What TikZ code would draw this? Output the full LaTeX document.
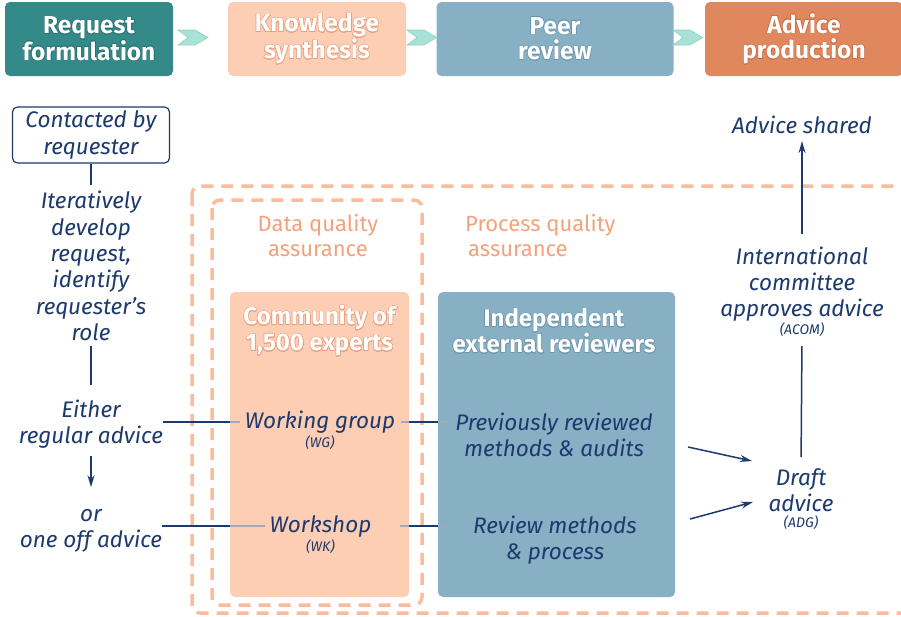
\documentclass[tikz,border=0pt]{standalone}
\usepackage{fontspec}
\setmainfont{Fira Sans}
\usepackage[copies]{contour}
\contourlength{0.5pt}
\usetikzlibrary{arrows.meta}
\definecolor{navy}{HTML}{1C3A6E}
\definecolor{cteal}{HTML}{338A88}
\definecolor{cpeach}{HTML}{FDCDB4}
\definecolor{cblue}{HTML}{87B0C4}
\definecolor{corange}{HTML}{E0875D}
\definecolor{chev}{HTML}{A8E2D6}
\definecolor{chevline}{HTML}{8ED3C5}
\definecolor{dashc}{HTML}{F9BC9D}
\definecolor{ptext}{HTML}{F2A27D}
\definecolor{olteal}{HTML}{2A716F}
\definecolor{olpeach}{HTML}{E9A07F}
\definecolor{olblue}{HTML}{6C97AD}
\definecolor{olorange}{HTML}{C96F46}
\definecolor{lineinbox}{HTML}{A3A9B8}
\begin{document}
\begin{tikzpicture}[x=1pt,y=-1pt,
  hdr/.style={rounded corners=5pt, minimum height=74pt, text=white, align=center, inner sep=0pt,
    font=\bfseries\fontsize{24.5}{25.5}\selectfont},
  body/.style={text=navy, align=center, inner sep=0pt, font=\itshape\fontsize{22.5}{26.3}\selectfont},
  small/.style={text=navy, align=center, inner sep=0pt, font=\itshape\fontsize{14}{15}\selectfont},
  ptxt/.style={text=ptext, inner sep=0pt, font=\fontsize{22}{25}\selectfont},
  btitle/.style={text=white, align=center, inner sep=0pt, font=\bfseries\fontsize{24}{26}\selectfont},
  bigbox/.style={rounded corners=5pt, inner sep=0pt},
  dashbox/.style={draw=dashc, line width=3.5pt, dash pattern=on 12pt off 8pt, rounded corners=8pt},
  conn/.style={draw=navy, line width=1.5pt},
  connin/.style={draw=lineinbox, line width=1.5pt},
  arr/.style={conn, -{Stealth[length=12pt,width=7pt]}},
  chevs/.style={fill=chev, draw=chevline, line width=0.6pt}
]
\useasboundingbox (0,0) rectangle (901,616);

% header
\node[hdr, fill=cteal, minimum width=168pt] (h1) at (89,39)
  {\contour{olteal}{Request}\\\contour{olteal}{formulation}};
\node[hdr, fill=cpeach, minimum width=178pt] (h2) at (317,39)
  {\contour{olpeach}{Knowledge}\\\contour{olpeach}{synthesis}};
\node[hdr, fill=cblue, minimum width=237pt] (h3) at (555,39)
  {\contour{olblue}{Peer}\\\contour{olblue}{review}};
\node[hdr, fill=corange, minimum width=198pt] (h4) at (804,39)
  {\contour{olorange}{Advice}\\\contour{olorange}{production}};
\foreach \dx in {0,229,495}{
  \path[chevs] (178+\dx,30) -- (195+\dx,30) -- (208+\dx,37.5) -- (195+\dx,45) -- (178+\dx,45) -- (188+\dx,37.5) -- cycle;
}

% dashed regions
\draw[dashbox] (192,186) rectangle (915,613);
\draw[dashbox] (212,200) rectangle (422,605);
\node[ptxt, align=center] (dqa) at (318,236) {Data quality\\assurance};
\node[ptxt, align=left, anchor=west] (pqa) at (465,236) {Process quality\\\hspace*{3pt}assurance};

% big boxes
\node[bigbox, fill=cpeach, minimum width=179pt, minimum height=305pt] (comm) at (319.5,444.5) {};
\node[bigbox, fill=cblue, minimum width=237pt, minimum height=305pt] (indep) at (556.5,444.5) {};
\node[btitle] (commt) at (319.5,331) {\contour{olpeach}{Community of}\\\contour{olpeach}{1,500 experts}};
\node[btitle] (indept) at (554,331) {\contour{olblue}{Independent}\\\contour{olblue}{external reviewers}};

% left column
\node[draw=navy, line width=1.2pt, rounded corners=5pt, minimum width=157pt, minimum height=56pt,
  body, fill=white] (contact) at (91,135) {Contacted by\\requester};
\node[body] (iter) at (91,266) {Iteratively\\develop\\request,\\identify\\requester’s\\role};
\node[body] (either) at (91,424) {Either\\regular advice};
\node[body] (oneoff) at (91,531) {or\\one off advice};

% inner texts
\node[body] (wg) at (320,422) {Working group};
\node[small] (wgl) at (320,443) {(WG)};
\node[body] (wk) at (320.5,526) {Workshop};
\node[small] (wkl) at (320.5,547) {(WK)};
\node[body] (prev) at (554,435) {Previously reviewed\\methods \& audits};
\node[body] (rev) at (555,540) {Review methods\\\& process};

% right column
\node[body] (shared) at (802,125) {Advice shared};
\node[body] (intl) at (802,284) {International\\committee\\approves advice};
\node[small] (acom) at (802,330) {(ACOM)};
\node[body] (draft) at (801,490) {Draft\\advice};
\node[small] (adg) at (801,523) {(ADG)};

% connectors
\draw[conn] (contact.south) -- ([yshift=6pt]iter.north);
\draw[conn, shorten <=5pt, shorten >=14pt] (iter.south) -- (either.north);
\draw[arr, shorten <=7pt, shorten >=22pt] (either.south) -- (oneoff.north);

\draw[conn] (wg.west -| either.east) -- (wg.west -| comm.west);
\draw[connin] (wg.west -| comm.west) -- ([xshift=-5pt]wg.west);
\draw[conn] (wk.west -| oneoff.east) -- (wk.west -| comm.west);
\draw[connin] (wk.west -| comm.west) -- ([xshift=-5pt]wk.west);

\draw[connin] ([xshift=6pt]wg.east) -- (wg.east -| comm.east);
\draw[conn] (wg.east -| comm.east) -- (wg.east -| indep.west);
\draw[connin] (wg.east -| indep.west) -- ([xshift=-8pt]wg.east -| prev.west);
\draw[connin] ([xshift=29pt]wk.east) -- (wk.east -| comm.east);
\draw[conn] (wk.east -| comm.east) -- (wk.east -| indep.west);
\draw[connin] (wk.east -| indep.west) -- ([xshift=-28pt]wk.east -| rev.west);

\coordinate (a1s) at (688,447);
\coordinate (a1e) at (752,461);
\coordinate (a2s) at (690,519);
\coordinate (a2e) at (753,502);
\draw[arr] (a1s) -- (a1e);
\draw[arr] (a2s) -- (a2e);

\draw[conn, shorten <=11pt, shorten >=9pt] (draft.north) -- (acom.south);
\draw[arr, shorten <=12pt, shorten >=7pt] (intl.north) -- (shared.south);
\end{tikzpicture}
\end{document}
